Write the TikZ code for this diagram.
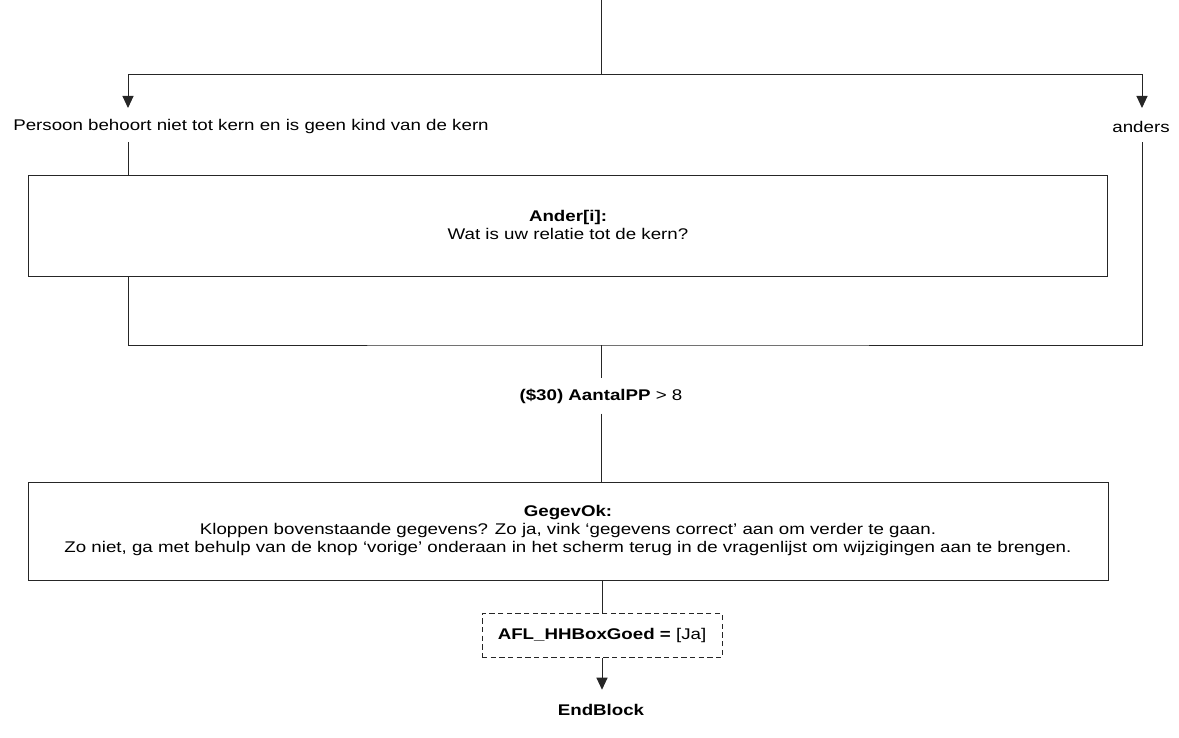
\documentclass[tikz,border=0pt]{standalone}
\usepackage{fontspec}
\usepackage{graphicx}
\setmainfont{Liberation Sans}
\usetikzlibrary{arrows.meta}
\newcommand{\hs}[1]{\scalebox{1.21}[1]{#1}}
\newcommand{\mlines}[1]{\hs{\begin{tabular}{@{}c@{}}#1\end{tabular}}}
\tikzset{
  ln/.style={draw=black!85, line width=0.75pt},
  arr/.style={ln, -{Triangle[width=8.25pt,length=9pt]}},
  lbl/.style={inner sep=0pt, font=\fontsize{11.6}{13.5}\selectfont},
  qbox/.style={draw=black!85, line width=0.75pt, inner sep=0pt,
    font=\fontsize{11.6}{13.5}\selectfont, minimum width=809pt},
  cbox/.style={draw=black!85, line width=0.75pt, dash pattern=on 4pt off 2.5pt,
    inner sep=0pt, font=\fontsize{11.6}{13.5}\selectfont,
    minimum width=180pt, minimum height=33pt}
}
\begin{document}
\begin{tikzpicture}[x=0.75pt,y=-0.75pt]
\useasboundingbox (0,0) rectangle (1179,738);
% coordinates
\coordinate (top) at (601,0);
\coordinate (split) at (601,75);
\coordinate (p1in) at (128,108);
\coordinate (p2in) at (1142,108);
\coordinate (p1out) at (128,142);
\coordinate (p2out) at (1142,142);
\coordinate (m) at (601,345);
% nodes
\node[lbl] (c1) at (251,127) {\hs{Persoon behoort niet tot kern en is geen kind van de kern}};
\node[lbl] (c2) at (1141,127) {\hs{anders}};
\node[qbox, minimum height=75.75pt] (ander) at (568,226.5)
  {\mlines{\textbf{Ander[i]:}\\ Wat is uw relatie tot de kern?}};
\node[lbl, minimum height=26pt] (cond) at (601,396)
  {\hs{\textbf{(\$30) AantalPP} > 8}};
\node[qbox, minimum width=810pt, minimum height=73.5pt] (gegev) at (568,531)
  {\mlines{\textbf{GegevOk:}\\ Kloppen bovenstaande gegevens? Zo ja, vink ‘gegevens correct’ aan om verder te gaan.\\ Zo niet, ga met behulp van de knop ‘vorige’ onderaan in het scherm terug in de vragenlijst om wijzigingen aan te brengen.}};
\node[cbox] (afl) at (602,635.5) {\hs{\textbf{AFL\_HHBoxGoed =} [Ja]}};
\node[lbl, minimum height=30pt] (end) at (601,710) {\hs{\textbf{EndBlock}}};
% connectors
\draw[ln] (top) -- (split);
\draw[arr] (split) -| (p1in);
\draw[arr] (split) -| (p2in);
\draw[ln] (p1out) -- (p1out |- ander.north);
\draw[ln] (p1out |- ander.south) |- (m) -| (p2out);
\draw[ln] (m) -- (cond.north);
\draw[ln] (cond.south) -- (cond.south |- gegev.north);
\draw[ln] (afl.north |- gegev.south) -- (afl.north);
\draw[arr] (afl.south) -- (afl.south |- end.north);
\end{tikzpicture}
\end{document}
